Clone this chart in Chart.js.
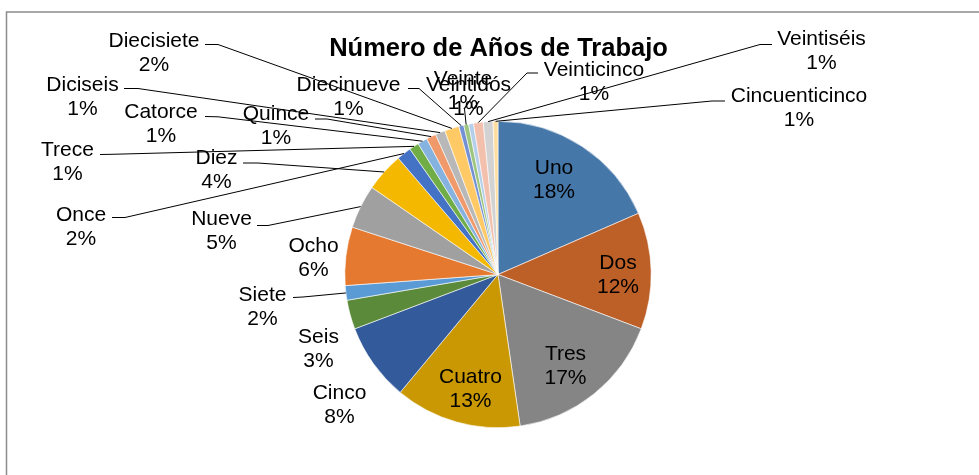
<!DOCTYPE html>
<html>
<head>
<meta charset="utf-8">
<script src="https://cdn.jsdelivr.net/npm/chart.js@4.4.1/dist/chart.umd.min.js"></script>
<style>
  html, body { margin: 0; padding: 0; background: #ffffff; }
  #wrap { position: relative; width: 979px; height: 475px; overflow: hidden; }
  canvas { display: block; }
</style>
</head>
<body>
<div id="wrap"><canvas id="c" width="979" height="475"></canvas></div>
<script>
// ---- data ----
const chartTitle = "Número de Años de Trabajo";
const categories = ["Uno","Dos","Tres","Cuatro","Cinco","Seis","Siete","Ocho","Nueve","Diez","Once",
  "Trece","Catorce","Quince","Diciseis","Diecisiete","Diecinueve","Veinte","Veintidós",
  "Veinticinco","Veintiséis","Cincuenticinco"];
const counts = [36,24,33,26,16,6,3,12,9,8,3,2,2,2,2,3,1,1,1,2,2,1];
const sliceColors = ["#4677A9","#BD6028","#858585","#CA9802","#335A9B","#5A8A3A",
  "#5B9BD5","#E5792F","#A0A0A0","#F5B800","#4472C4","#70AD47",
  "#85B2DE","#F0996A","#B8B8B8","#FFCA66","#7390D4","#9DC57E",
  "#B5CFEA","#F4C0AE","#D2D2D2","#FFDDA0"];

// ---- label layout (text positions and leader-line elbows) ----
const labelLayout = {
  "Uno":        {x: 554, y: 166.5},
  "Dos":        {x: 618, y: 261},
  "Tres":       {x: 565.5, y: 352.5},
  "Cuatro":     {x: 470.5, y: 375.5},
  "Cinco":      {x: 339.5, y: 391},
  "Seis":       {x: 318.5, y: 335},
  "Siete":      {x: 262.5, y: 293.5, lead: [[293, 297.5], [303, 297]]},
  "Ocho":       {x: 313.5, y: 244.5},
  "Nueve":      {x: 221.5, y: 217.5, lead: [[257, 225.5], [268, 225.5]]},
  "Diez":       {x: 216.5, y: 156, lead: [[243, 163], [258, 163]]},
  "Once":       {x: 81, y: 213, lead: [[112, 217.5], [125, 217.5]]},
  "Trece":      {x: 67.5, y: 148.5, lead: [[100, 154.5], [112, 154.3]]},
  "Catorce":    {x: 161, y: 110, lead: [[205, 116.5], [218, 116.8]]},
  "Quince":     {x: 276, y: 112, lead: [[315, 119], [327, 119]]},
  "Diciseis":   {x: 82.5, y: 83, lead: [[124, 88.5], [138, 88.5]]},
  "Diecisiete": {x: 154, y: 39, lead: [[205, 44.5], [218, 44.5]]},
  "Diecinueve": {x: 348.5, y: 83.3, lead: [[408, 88.5], [419, 88.5]]},
  "Veinte":     {x: 463, y: 77.5, lead: [[464.5, 109]]},
  "Veintidós":  {x: 468.5, y: 83.3},
  "Veinticinco":{x: 594, y: 68, lead: [[538, 73], [527, 73]]},
  "Veintiséis": {x: 821.5, y: 37.5, lead: [[772, 44.5], [760, 44.5]]},
  "Cincuenticinco": {x: 799, y: 94, lead: [[725, 101], [712, 101]]}
};

const LABEL_FONT = '21px "Liberation Sans", Arial, sans-serif';
const TITLE_FONT = 'bold 25.5px "Liberation Sans", Arial, sans-serif';

const decorPlugin = {
  id: 'decor',
  beforeDraw(chart) {
    const ctx = chart.ctx;
    ctx.save();
    ctx.fillStyle = '#ffffff';
    ctx.fillRect(0, 0, chart.width, chart.height);
    // frame
    ctx.strokeStyle = '#8c8c8c';
    ctx.lineWidth = 1.5;
    ctx.beginPath();
    ctx.moveTo(6.5, chart.height + 5);
    ctx.lineTo(6.5, 12);
    ctx.lineTo(chart.width + 5, 12);
    ctx.stroke();
    ctx.restore();
  },
  afterDatasetsDraw(chart) {
    const ctx = chart.ctx;
    const meta = chart.getDatasetMeta(0);
    const total = counts.reduce((a, b) => a + b, 0);
    ctx.save();
    // leader lines
    ctx.strokeStyle = '#000000';
    ctx.lineWidth = 1;
    meta.data.forEach((arc, i) => {
      const lay = labelLayout[categories[i]];
      if (!lay || !lay.lead) return;
      const p = arc.getProps(['x', 'y', 'startAngle', 'endAngle', 'outerRadius'], true);
      const mid = (p.startAngle + p.endAngle) / 2;
      const ex = p.x + Math.cos(mid) * p.outerRadius;
      const ey = p.y + Math.sin(mid) * p.outerRadius;
      ctx.beginPath();
      ctx.moveTo(lay.lead[0][0], lay.lead[0][1]);
      for (let k = 1; k < lay.lead.length; k++) ctx.lineTo(lay.lead[k][0], lay.lead[k][1]);
      ctx.lineTo(ex, ey);
      ctx.stroke();
    });
    // labels
    ctx.fillStyle = '#000000';
    ctx.font = LABEL_FONT;
    ctx.textAlign = 'center';
    ctx.textBaseline = 'alphabetic';
    categories.forEach((name, i) => {
      const lay = labelLayout[name];
      if (!lay) return;
      const pct = Math.round(counts[i] / total * 100) + '%';
      ctx.fillText(name, lay.x, lay.y + 7.5);
      ctx.fillText(pct, lay.x, lay.y + 24 + 7.5);
    });
    // title
    ctx.font = TITLE_FONT;
    ctx.fillText(chartTitle, 498.5, 56.3);
    ctx.restore();
  }
};

new Chart(document.getElementById('c'), {
  type: 'pie',
  data: {
    labels: categories,
    datasets: [{
      data: counts,
      backgroundColor: sliceColors,
      borderColor: '#ffffff',
      borderWidth: 0.6
    }]
  },
  options: {
    responsive: false,
    animation: false,
    devicePixelRatio: 1,
    layout: { padding: { top: 121, bottom: 47, left: 17, right: 0 } },
    plugins: {
      legend: { display: false },
      title: { display: false },
      tooltip: { enabled: false }
    },
    events: []
  },
  plugins: [decorPlugin]
});
</script>
</body>
</html>
